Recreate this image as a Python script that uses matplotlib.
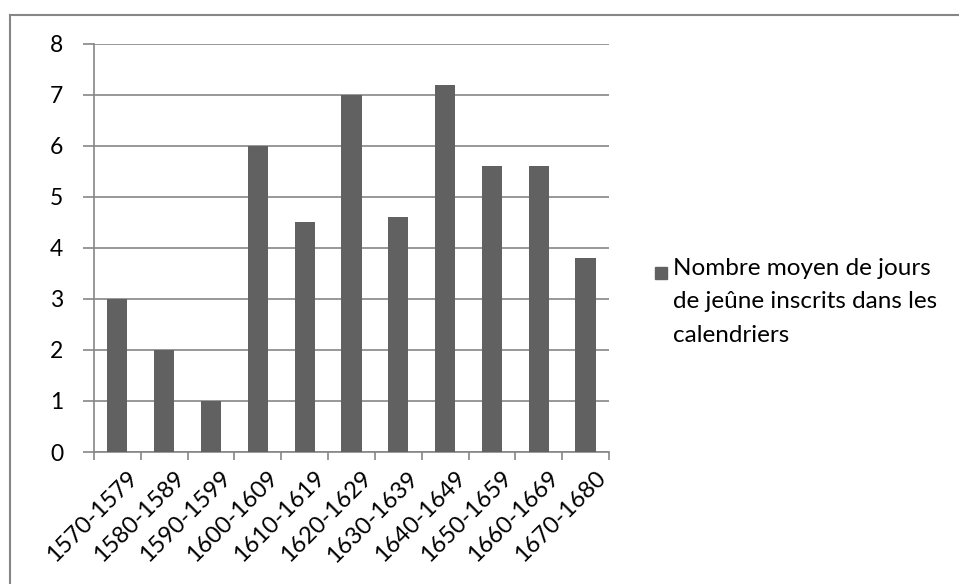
import matplotlib.pyplot as plt
import numpy as np
from matplotlib.lines import Line2D
from matplotlib.patches import Rectangle

plt.rcParams['font.family'] = ['Lato', 'DejaVu Sans']

# données
periodes = ['1570-1579', '1580-1589', '1590-1599', '1600-1609', '1610-1619',
            '1620-1629', '1630-1639', '1640-1649', '1650-1659', '1660-1669',
            '1670-1680']
jours_jeune = [3, 2, 1, 6, 4.5, 7, 4.6, 7.2, 5.6, 5.6, 3.8]
serie = 'Nombre moyen de jours\nde jeûne inscrits dans les\ncalendriers'

gris = '#868686'
barre = '#616161'

fig = plt.figure(figsize=(9.59, 5.84), dpi=100)
ax = fig.add_axes([0.098, 0.226, 0.537, 0.699])

x = np.arange(len(periodes))
ax.bar(x, jours_jeune, width=0.43, color=barre, zorder=3)

ax.set_xlim(-0.5, len(periodes) - 0.5)
ax.set_ylim(0, 8)
ax.set_yticks(range(0, 9))
ax.yaxis.grid(True, color=gris, linewidth=1.2, zorder=0)

# ticks x entre les catégories
ax.set_xticks(np.arange(-0.5, len(periodes)))
ax.set_xticklabels([])
ax.tick_params(axis='x', length=6, color=gris, width=1.2, direction='out')
ax.tick_params(axis='y', length=8, color=gris, width=1.2, direction='out',
               labelsize=16.5, pad=14)
for i, lab in enumerate(periodes):
    ax.text(i + 0.2, -0.3, lab, rotation=45, ha='right', va='top',
            rotation_mode='anchor', fontsize=17)

for s in ['top', 'right']:
    ax.spines[s].set_visible(False)
for s in ['left', 'bottom']:
    ax.spines[s].set_color(gris)
    ax.spines[s].set_linewidth(1.2)

# légende
fig.patches.append(Rectangle((0.683, 0.523), 0.0125, 0.0205, color=barre,
                             transform=fig.transFigure, figure=fig))
fig.text(0.702, 0.558, serie, ha='left', va='top', fontsize=17.5,
         linespacing=1.72)

# cadre
fig.add_artist(Line2D([0.0105, 1.0], [0.974, 0.974], color=gris, linewidth=1.5))
fig.add_artist(Line2D([0.0105, 0.0105], [0.0, 0.974], color=gris, linewidth=1.5))

fig.savefig('out.png')
